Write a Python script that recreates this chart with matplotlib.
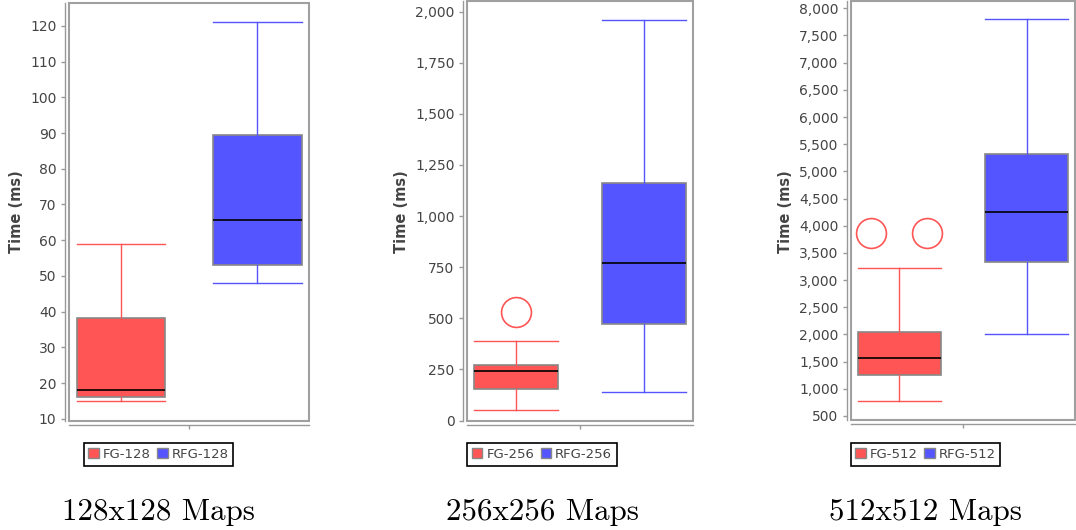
import numpy as np
import matplotlib
matplotlib.use("Agg")
import matplotlib.pyplot as plt
from matplotlib.patches import Patch, Rectangle
from matplotlib.ticker import FuncFormatter

# Datos (ms)
series = ["FG", "RFG"]
sizes = ["128", "256", "512"]
captions = ["128x128 Maps", "256x256 Maps", "512x512 Maps"]

# whislo, q1, med, q3, whishi para cada serie
fg_128 = [15, 16.2, 18.1, 38.3, 59]
rfg_128 = [48, 53, 65.7, 89.5, 121]
fg_256 = [54, 153, 241, 274, 391]
rfg_256 = [142, 474, 770, 1162, 1959]
fg_512 = [776, 1260, 1567, 2051, 3228]
rfg_512 = [2014, 3333, 4259, 5314, 7803]

out_fg = [[], [533], [3872, 3872]]
out_rfg = [[], [], []]

ylims = [(9.4, 126.4), (-2, 2052), (426, 8134)]
yticks = [np.arange(10, 121, 10), np.arange(0, 2001, 250), np.arange(500, 8001, 500)]

colores = ["#FF5555", "#5555FF"]
gris = "#444444"

W, H = 1076, 530
fig = plt.figure(figsize=(W / 100, H / 100), dpi=100)

# rectangulos de cada grafico en pixeles (x0, y0, x1, y1)
rects = [(69, 3, 309, 421), (467, 1, 693, 421), (851, 1, 1075, 420)]
leg_cx = [158.5, 542, 925.5]
lab_x = [17, 402, 785]

datos = [(fg_128, rfg_128), (fg_256, rfg_256), (fg_512, rfg_512)]

for i in range(3):
    x0, y0, x1, y1 = rects[i]
    ax = fig.add_axes([x0 / W, (H - y1) / H, (x1 - x0) / W, (y1 - y0) / H])

    pos = [1, 2]
    ancho = 0.65
    for j, d in enumerate(datos[i]):
        st = [dict(whislo=d[0], q1=d[1], med=d[2], q3=d[3], whishi=d[4], fliers=[])]
        ax.bxp(st, positions=[pos[j]], widths=ancho, capwidths=ancho,
               patch_artist=True, showfliers=False,
               boxprops=dict(facecolor=colores[j], edgecolor="#888888", linewidth=1.2),
               whiskerprops=dict(color=colores[j], linewidth=1),
               capprops=dict(color=colores[j], linewidth=1),
               medianprops=dict(color="black", linewidth=1.2))

    # outliers
    for j, outs in enumerate([out_fg[i], out_rfg[i]]):
        n = len(outs)
        if n == 0:
            continue
        dx = (np.arange(n) - (n - 1) / 2) * 0.44
        ax.plot(pos[j] + dx, outs, "o", mfc="none", mec=colores[j], ms=21.5, mew=1.2)

    ax.set_xlim(0.62, 2.38)
    ax.set_ylim(*ylims[i])
    ax.set_yticks(yticks[i])
    ax.yaxis.set_major_formatter(FuncFormatter(lambda v, p: f"{v:,.0f}"))
    ax.set_xticks([1.5])
    ax.set_xticklabels([""])

    for s in ["top", "right"]:
        ax.spines[s].set_visible(False)
    for s in ["left", "bottom"]:
        ax.spines[s].set_position(("outward", 3))
        ax.spines[s].set_color("#999999")
        ax.spines[s].set_linewidth(1)
    ax.tick_params(axis="both", length=3, width=1, color="#999999",
                   labelsize=10, labelcolor=gris, pad=3)

    # marco del area de datos
    ax.add_patch(Rectangle((0, 0), 1, 1, transform=ax.transAxes, fill=False,
                           edgecolor="#a0a0a0", linewidth=1.5, clip_on=False, zorder=10))

    fig.text(lab_x[i] / W, 1 - 212 / H, "Time (ms)", rotation=90, ha="center", va="center",
             fontsize=10.5, fontweight="bold", color=gris)

    handles = [Patch(facecolor=colores[k], edgecolor="#888888") for k in range(2)]
    labels = [f"{series[k]}-{sizes[i]}" for k in range(2)]
    leg = fig.legend(handles, labels, loc="center", bbox_to_anchor=(leg_cx[i] / W, 1 - 454.5 / H),
                     ncol=2, fancybox=False, edgecolor="black", framealpha=1,
                     handlelength=0.8, handleheight=0.8, handletextpad=0.3,
                     columnspacing=0.5, borderpad=0.35, borderaxespad=0, fontsize=9.5)
    leg.get_frame().set_linewidth(1.2)
    for t in leg.get_texts():
        t.set_color(gris)

    fig.text(leg_cx[i] / W, 1 - 512 / H, captions[i], family="cmr10", fontsize=22.3,
             ha="center", va="center")

fig.savefig("out.png", dpi=100)
